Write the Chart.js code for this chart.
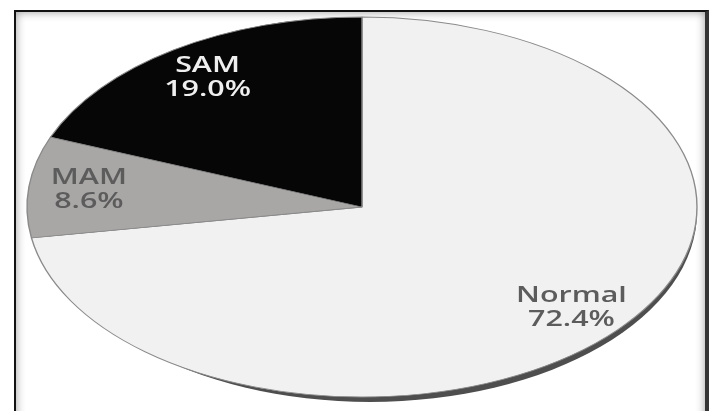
<!DOCTYPE html>
<html>
<head>
<meta charset="utf-8">
<script src="https://cdn.jsdelivr.net/npm/chart.js@4/dist/chart.umd.min.js"></script>
<style>
  html, body { margin: 0; padding: 0; background: #fff; }
  #wrap { position: relative; width: 710px; height: 411px; overflow: hidden; }
  #frame {
    position: absolute; left: 14px; top: 10px; width: 689px; height: 410px;
    border-left: 2px solid #111; border-top: 2px solid #111; border-right: 4px solid #333;
    box-shadow: inset 0 0 10px rgba(0,0,0,.4);
    background: #fff;
  }
  #chart { position: absolute; left: 0; top: 0; }
</style>
</head>
<body>
<div id="wrap">
  <div id="frame"></div>
  <canvas id="chart" width="710" height="411"></canvas>
</div>
<script>
const categories = ["Normal", "MAM", "SAM"];
const percentages = [72.4, 8.6, 19.0];

const sliceColors = ["#f1f1f1", "#a9a7a6", "#060606"];
const labelColors = ["#5c5c5c", "#5c5c5c", "#efefef"];

// pie is drawn as a circle then stretched sideways into an ellipse
const stretchX = 335 / 190;
const textStretch = 1.45;
const labelRadius = 0.82;

const ellipsePlugin = {
  id: "ellipse",
  beforeDatasetsDraw(chart) {
    const ctx = chart.ctx;
    const arc = chart.getDatasetMeta(0).data[0];
    const { x, y, outerRadius } = arc.getProps(["x", "y", "outerRadius"], true);
    ctx.save();
    // dark rim under the bottom edge
    ctx.fillStyle = "#4e4e4e";
    ctx.beginPath();
    ctx.ellipse(x + 8, y + 5, outerRadius * stretchX - 8, outerRadius, 0, 0, Math.PI * 2);
    ctx.fill();
    ctx.translate(x, y);
    ctx.scale(stretchX, 1);
    ctx.translate(-x, -y);
  },
  afterDatasetsDraw(chart) {
    chart.ctx.restore();
  }
};

const labelPlugin = {
  id: "sliceLabels",
  afterDraw(chart) {
    const ctx = chart.ctx;
    chart.getDatasetMeta(0).data.forEach((arc, i) => {
      const p = arc.getProps(["x", "y", "startAngle", "endAngle", "outerRadius"], true);
      const mid = (p.startAngle + p.endAngle) / 2;
      const r = p.outerRadius * labelRadius;
      const lx = p.x + Math.cos(mid) * r * stretchX;
      const ly = p.y + Math.sin(mid) * r;
      ctx.save();
      ctx.translate(lx, ly);
      ctx.scale(textStretch, 1);
      ctx.font = '600 21px "Open Sans"';
      ctx.fillStyle = labelColors[i];
      ctx.textAlign = "center";
      ctx.textBaseline = "middle";
      ctx.fillText(categories[i], 0, -12);
      ctx.fillText(percentages[i].toFixed(1) + "%", 0, 12);
      ctx.restore();
    });
  }
};

function draw() {
  new Chart(document.getElementById("chart"), {
    type: "pie",
    data: {
      labels: categories,
      datasets: [{
        data: percentages,
        backgroundColor: sliceColors,
        borderColor: "#8a8a8a",
        borderWidth: 0.8,
        hoverOffset: 0,
        radius: 190
      }]
    },
    options: {
      responsive: false,
      animation: false,
      events: [],
      layout: { padding: { top: 17, bottom: 14, left: 114, right: 100 } },
      plugins: {
        legend: { display: false },
        tooltip: { enabled: false }
      }
    },
    plugins: [ellipsePlugin, labelPlugin]
  });
}

document.fonts.load('600 21px "Open Sans"').then(draw, draw);
</script>
</body>
</html>
